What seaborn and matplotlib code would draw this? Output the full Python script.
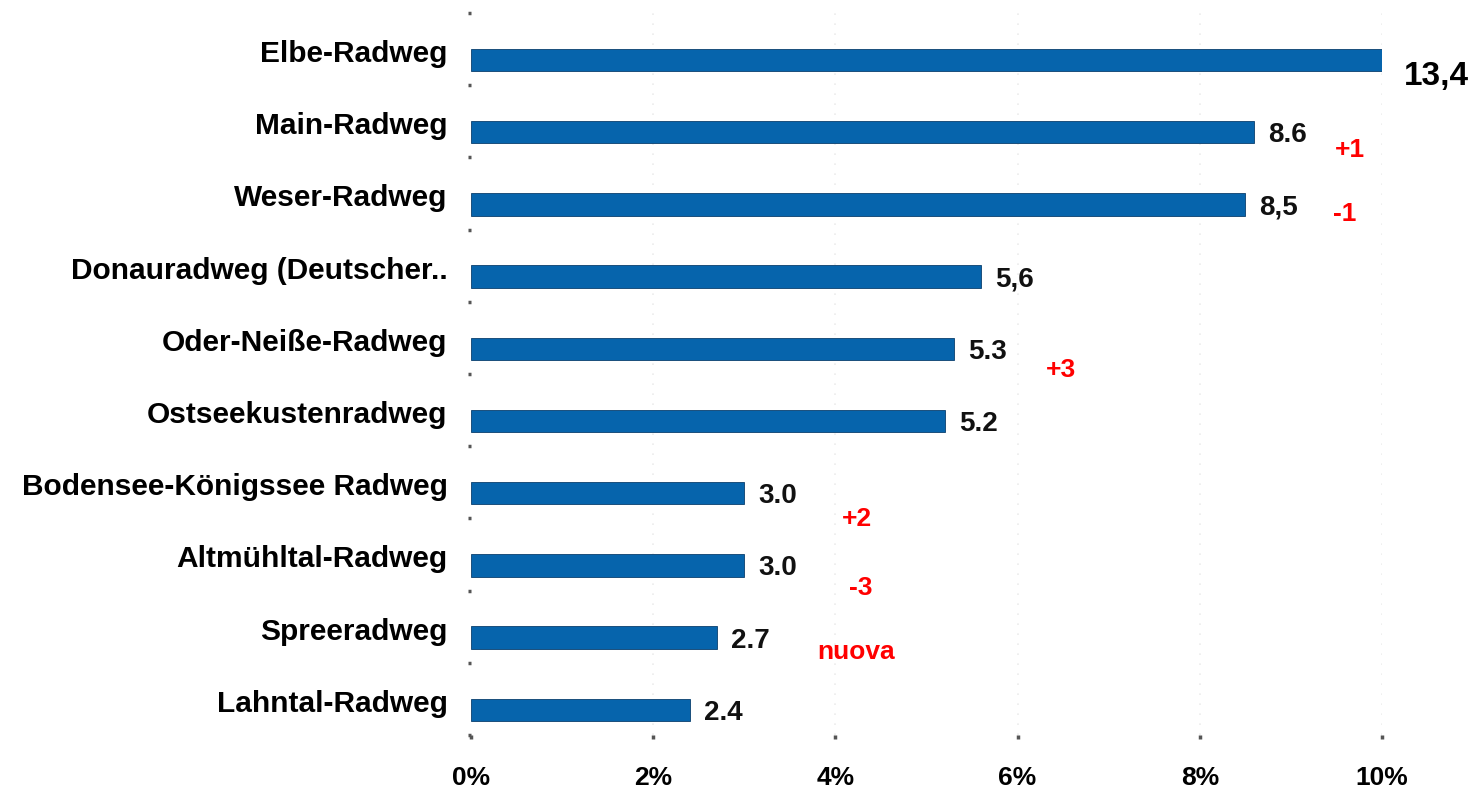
import numpy as np
import pandas as pd
import matplotlib
matplotlib.use("Agg")
import matplotlib.pyplot as plt
import matplotlib.transforms as mtransforms
import seaborn as sns

# ---- data ----
routes = ["Elbe-Radweg", "Main-Radweg", "Weser-Radweg", "Donauradweg (Deutscher..",
          "Oder-Neiße-Radweg", "Ostseekustenradweg", "Bodensee-Königssee Radweg",
          "Altmühltal-Radweg", "Spreeradweg", "Lahntal-Radweg"]
shares = [13.4, 8.6, 8.5, 5.6, 5.3, 5.2, 3.0, 3.0, 2.7, 2.4]
value_labels = ["13,4", "8.6", "8,5", "5,6", "5.3", "5.2", "3.0", "3.0", "2.7", "2.4"]
rank_change = ["", "+1", "-1", "", "+3", "", "+2", "-3", "nuova", ""]
x_ticks = [0, 2, 4, 6, 8, 10]
x_tick_labels = ["0%", "2%", "4%", "6%", "8%", "10%"]

# ---- layout (positions for red annotations, in axis data units) ----
note_pos = {1: (9.48, 1.25), 2: (9.46, 2.13), 4: (6.31, 4.29),
            6: (4.07, 6.36), 7: (4.15, 7.31), 8: (3.80, 8.20)}

sns.set_theme(style="white")
plt.rcParams['font.family'] = ['Liberation Sans', 'DejaVu Sans']

df = pd.DataFrame({"route": routes, "share": shares})

fig = plt.figure(figsize=(14.79, 8.0), dpi=100)
ax = fig.add_axes([471/1479, 1 - 735/800, (1382 - 471)/1479, (735 - 13)/800])

bar_color = "#0664AC"
sns.barplot(data=df, x="share", y="route", orient="h", color=bar_color,
            width=0.31, saturation=1, ax=ax, zorder=2)
for p in ax.patches:
    p.set_edgecolor("#0A3F6E")
    p.set_linewidth(0.6)

ax.set_xlim(0, 10)
ax.set_ylim(9.35, -0.65)

# vertical faint dotted grid
for xv in x_ticks[1:]:
    ax.axvline(xv, color="#ececec", linestyle=(0, (1, 5)), linewidth=1.2, zorder=1)

for s in ax.spines.values():
    s.set_visible(False)

ax.set_xticks(x_ticks)
ax.set_xticklabels(x_tick_labels, fontsize=19, fontweight="bold", color="black")
ax.tick_params(axis="x", length=3, width=2.5, color="#555555", direction="out",
               pad=19, bottom=True)
ax.set_ylabel("")
ax.set_xlabel("")
ax.set_yticks(range(len(routes)))
ax.set_yticklabels(routes, fontsize=21.5, fontweight="bold", color="black")
ax.tick_params(axis="y", length=0, pad=17)
offset = mtransforms.ScaledTranslation(0, 9/100, fig.dpi_scale_trans)
for lbl in ax.get_yticklabels():
    lbl.set_transform(lbl.get_transform() + offset)

# y-axis dots at band boundaries
bounds = np.arange(-0.65, 9.36, 1.0)
ax.set_yticks(bounds, minor=True)
ax.tick_params(axis="y", which="minor", length=2.5, width=2.5, color="#555555",
               direction="out", left=True)

# value labels
for i, (v, lab) in enumerate(zip(shares, value_labels)):
    end = min(v, 10)
    if i == 0:
        ax.annotate(lab, xy=(end, i), xytext=(22, -17), textcoords="offset pixels",
                    ha="left", va="center", fontsize=24, fontweight="bold",
                    color="black", annotation_clip=False)
    else:
        ax.annotate(lab, xy=(end, i), xytext=(14, -3), textcoords="offset pixels",
                    ha="left", va="center", fontsize=20, fontweight="bold",
                    color="#111111", annotation_clip=False)

# red rank-change notes
for i, txt in enumerate(rank_change):
    if txt:
        x, y = note_pos[i]
        ax.text(x, y, txt, ha="left", va="center", fontsize=19, fontweight="bold",
                color="#ff0000", clip_on=False)

fig.savefig("out.png", dpi=100)
